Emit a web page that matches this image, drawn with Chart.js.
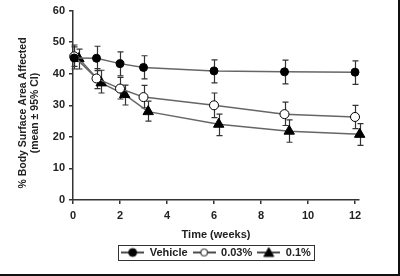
<!DOCTYPE html>
<html>
<head>
<meta charset="utf-8">
<script src="https://cdn.jsdelivr.net/npm/chart.js@4"></script>
<style>
  html, body { margin: 0; padding: 0; background: #fff; }
  #frame {
    width: 398px;
    height: 274px;
    border-right: 2px solid #111;
    border-bottom: 2px solid #111;
    position: relative;
  }
</style>
</head>
<body>
<div id="frame">
  <canvas id="chart" width="398" height="274"></canvas>
</div>
<script>
// weeks where each group was measured (0.1% drawn slightly to the right)
const weeksA = [0.05, 1, 2, 3, 6, 9, 12];
const weeksB = [0.25, 1.2, 2.2, 3.2, 6.2, 9.2, 12.2];

const vehicle = [45, 44.9, 43.2, 42, 40.9, 40.6, 40.5];
const vehicleLow = [41.5, 41, 39.3, 38.4, 37.1, 36.8, 36.6];
const vehicleHigh = [48.5, 48.7, 46.9, 45.7, 44.4, 44.3, 44.1];

const low003 = [45.5, 38.5, 35.3, 32.6, 30, 27.2, 26.3];
const low003Low = [42.3, 35.3, 32, 29.2, 26.1, 23.6, 22.6];
const low003High = [49.1, 41.6, 38.8, 36.3, 33.9, 31, 30];

const high01 = [44.8, 37.1, 33.4, 28, 24, 21.8, 20.8];
const high01Low = [41.5, 33.9, 30.1, 25, 20.4, 18.3, 17.3];
const high01High = [47.8, 41.1, 36.4, 31.3, 27.2, 25.4, 24.2];

const seriesNames = ['Vehicle', '0.03%', '0.1%'];
const xTicks = [0, 2, 4, 6, 8, 10, 12];
const yTitle = ['% Body Surface Area Affected', '(mean ± 95% CI)'];

const FONT = '"Liberation Sans", Arial, sans-serif';
const TXT = '#222';

const pts = (xs, ys) => xs.map((x, i) => ({ x: x, y: ys[i] }));

const makeIcon = (kind) => {
  const c = document.createElement('canvas');
  c.width = 23;
  c.height = 12;
  const g = c.getContext('2d');
  g.strokeStyle = '#111';
  g.lineWidth = 1.5;
  g.beginPath();
  g.moveTo(0, 6);
  g.lineTo(23, 6);
  g.stroke();
  g.fillStyle = kind === 'open' ? '#fff' : '#000';
  g.lineWidth = 1;
  g.beginPath();
  if (kind === 'tri') {
    g.moveTo(11.5, 1);
    g.lineTo(16.5, 10);
    g.lineTo(6.5, 10);
    g.closePath();
  } else {
    g.arc(11.5, 6, kind === 'open' ? 3.5 : 4, 0, Math.PI * 2);
  }
  g.fill();
  g.stroke();
  return c;
};
const icons = [makeIcon('dot'), makeIcon('open'), makeIcon('tri')];

const errorBars = {
  id: 'errorBars',
  beforeDatasetsDraw(chart) {
    const { ctx, scales } = chart;
    ctx.save();
    ctx.strokeStyle = '#333';
    ctx.lineWidth = 1.2;
    chart.data.datasets.forEach((ds) => {
      ds.data.forEach((p, j) => {
        const px = Math.round(scales.x.getPixelForValue(p.x)) + 0.5;
        const yl = scales.y.getPixelForValue(ds.errLow[j]);
        const yh = scales.y.getPixelForValue(ds.errHigh[j]);
        ctx.beginPath();
        ctx.moveTo(px, yl);
        ctx.lineTo(px, yh);
        ctx.moveTo(px - 3, yl);
        ctx.lineTo(px + 3, yl);
        ctx.moveTo(px - 3, yh);
        ctx.lineTo(px + 3, yh);
        ctx.stroke();
      });
    });
    ctx.restore();
  }
};

// frame round the legend + the two-line y title (sits a bit low in the original)
const extras = {
  id: 'extras',
  afterDraw(chart) {
    const ctx = chart.ctx;
    const boxes = chart.legend.legendHitBoxes;
    ctx.save();
    if (boxes && boxes.length) {
      const l = Math.min(...boxes.map(b => b.left)) - 3;
      const r = Math.max(...boxes.map(b => b.left + b.width)) + 3;
      const t = Math.min(...boxes.map(b => b.top)) - 2;
      const btm = Math.max(...boxes.map(b => b.top + b.height)) + 2;
      ctx.strokeStyle = '#333';
      ctx.lineWidth = 1;
      ctx.strokeRect(Math.round(l) + 0.5, Math.round(t) + 0.5, Math.round(r - l), Math.round(btm - t));
    }
    ctx.translate(29, 113);
    ctx.rotate(-Math.PI / 2);
    ctx.fillStyle = TXT;
    ctx.font = 'bold 10.5px ' + FONT;
    ctx.textAlign = 'center';
    ctx.textBaseline = 'middle';
    ctx.fillText(yTitle[0], 0, -6);
    ctx.fillText(yTitle[1], 0, 6);
    ctx.restore();
  }
};

const lineDs = (label, data, lo, hi, style, radius, fill) => ({
  label: label,
  data: data,
  errLow: lo,
  errHigh: hi,
  showLine: true,
  clip: false,
  borderColor: '#666',
  borderWidth: 1.5,
  pointStyle: style,
  pointRadius: radius,
  pointHoverRadius: radius,
  pointBackgroundColor: fill,
  pointBorderColor: '#000',
  pointBorderWidth: 1,
  tension: 0
});

new Chart(document.getElementById('chart'), {
  type: 'scatter',
  data: {
    datasets: [
      lineDs(seriesNames[0], pts(weeksA, vehicle), vehicleLow, vehicleHigh, 'circle', 4, '#000'),
      lineDs(seriesNames[1], pts(weeksA, low003), low003Low, low003High, 'circle', 4.5, '#fff'),
      lineDs(seriesNames[2], pts(weeksB, high01), high01Low, high01High, 'triangle', 6, '#000')
    ]
  },
  options: {
    responsive: false,
    animation: false,
    layout: { padding: { left: 0, top: 8, right: 39, bottom: 6 } },
    plugins: {
      tooltip: { enabled: false },
      legend: {
        position: 'bottom',
        fullSize: false,
        labels: {
          usePointStyle: true,
          pointStyleWidth: 23,
          padding: 5,
          color: TXT,
          font: { family: FONT, size: 11, weight: 'bold' },
          generateLabels: (chart) => chart.data.datasets.map((ds, i) => ({
            text: ds.label,
            pointStyle: icons[i],
            fillStyle: '#000',
            strokeStyle: '#000',
            lineWidth: 0,
            datasetIndex: i,
            fontColor: TXT
          }))
        }
      }
    },
    scales: {
      x: {
        type: 'linear',
        min: 0,
        max: 12.17,
        afterFit: (s) => { s.height = 42; },
        afterBuildTicks: (s) => { s.ticks = xTicks.map(v => ({ value: v })); },
        border: { color: '#333', width: 1.5 },
        grid: { drawOnChartArea: false, tickLength: 4, color: '#333', lineWidth: 1.5 },
        ticks: {
          color: TXT,
          padding: 5,
          font: { family: FONT, size: 11, weight: 'bold' }
        },
        title: {
          display: true,
          text: 'Time (weeks)',
          color: TXT,
          padding: { top: 0, bottom: 0 },
          font: { family: FONT, size: 11, weight: 'bold' }
        }
      },
      y: {
        min: 0,
        max: 60,
        afterFit: (s) => { s.width = 73; },
        border: { color: '#333', width: 1.5 },
        grid: { drawOnChartArea: false, tickLength: 4, color: '#333', lineWidth: 1.5 },
        ticks: {
          stepSize: 10,
          color: TXT,
          padding: 4,
          font: { family: FONT, size: 11, weight: 'bold' }
        }
      }
    }
  },
  plugins: [errorBars, extras]
});
</script>
</body>
</html>
